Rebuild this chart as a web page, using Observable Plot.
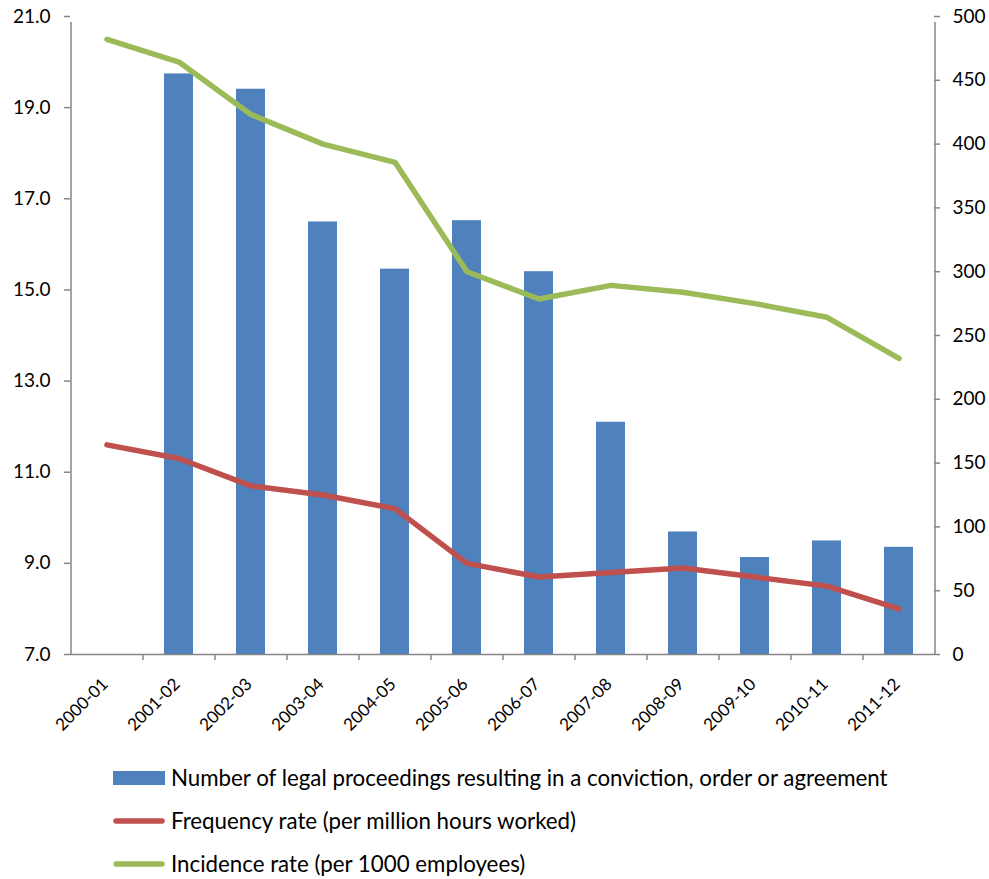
<!DOCTYPE html>
<html>
<head>
<meta charset="utf-8">
<script src="https://cdn.jsdelivr.net/npm/d3@7"></script>
<script src="https://cdn.jsdelivr.net/npm/@observablehq/plot@0.6"></script>
<style>
  body { margin: 0; background: #fff; font-family: Lato, "Open Sans", sans-serif; }
  #legend .row { height: 43px; display: flex; align-items: center; padding-left: 113px; font-size: 22.3px; color: #000; }
  #legend .sw { width: 52px; margin-right: 6px; flex: none; }
</style>
</head>
<body>
<div id="chart"></div>
<div id="legend"></div>
<script>
// ---- data ----
const years = ["2000-01","2001-02","2002-03","2003-04","2004-05","2005-06","2006-07","2007-08","2008-09","2009-10","2010-11","2011-12"];
const proceedings = [null, 455, 443, 339, 302, 340, 300, 182, 96, 76, 89, 84];
const frequency = [11.6, 11.3, 10.7, 10.5, 10.2, 9.0, 8.7, 8.8, 8.9, 8.7, 8.5, 8.0];
const incidence = [20.5, 20.0, 18.85, 18.2, 17.8, 15.4, 14.8, 15.1, 14.95, 14.7, 14.4, 13.5];
const leftTicks = [7, 9, 11, 13, 15, 17, 19, 21];
const rightTicks = [0, 50, 100, 150, 200, 250, 300, 350, 400, 450, 500];
const seriesNames = [
  "Number of legal proceedings resulting in a conviction, order or agreement",
  "Frequency rate (per million hours worked)",
  "Incidence rate (per 1000 employees)"
];
const seriesColors = ["#4F81BD", "#C0504D", "#9BBB59"];

// ---- layout ----
const W = 989, H = 756, mL = 70, mR = 55, mT = 16, mB = H - 654;
const plotW = W - mL - mR;
const axisColor = "#868686";
const halfStep = plotW / years.length / 2;

const data = years.map((year, i) => ({year, proceedings: proceedings[i], frequency: frequency[i], incidence: incidence[i]}));
const y2 = d3.scaleLinear([0, 500], [7, 21]);

const chart = Plot.plot({
  width: W, height: H,
  marginLeft: mL, marginRight: mR, marginTop: mT, marginBottom: mB,
  style: {fontFamily: "Lato, 'Open Sans', sans-serif", fontSize: "19px", color: "#000", background: "#fff"},
  x: {type: "band", domain: years, paddingInner: 0.6, paddingOuter: 0.3, label: null, axis: null},
  y: {domain: [7, 21], label: null, axis: null},
  marks: [
    Plot.barY(data.filter(d => d.proceedings != null), {x: "year", y1: 7, y2: d => y2(d.proceedings), fill: seriesColors[0]}),
    Plot.line(data, {x: "year", y: "frequency", stroke: seriesColors[1], strokeWidth: 5.5, strokeLinecap: "round", strokeLinejoin: "round"}),
    Plot.line(data, {x: "year", y: "incidence", stroke: seriesColors[2], strokeWidth: 5.5, strokeLinecap: "round", strokeLinejoin: "round"}),
    // axis lines and category-boundary ticks
    Plot.ruleY([7], {stroke: axisColor, strokeWidth: 1.5}),
    Plot.ruleX([years[0]], {x: d => d, dx: -halfStep, y1: 7, y2: 21, insetBottom: -6, stroke: axisColor, strokeWidth: 1.5}),
    Plot.ruleX([years[years.length - 1]], {x: d => d, dx: halfStep, y1: 7, y2: 21, insetBottom: -6, stroke: axisColor, strokeWidth: 1.5}),
    Plot.ruleX(years.slice(1), {x: d => d, dx: -halfStep, y1: 7, y2: 7, insetBottom: -6, stroke: axisColor, strokeWidth: 1.5}),
    // left axis ticks + labels
    Plot.tickY(leftTicks, {y: d => d, stroke: axisColor, strokeWidth: 1.5, insetLeft: -6, insetRight: plotW}),
    Plot.text(leftTicks, {y: d => d, frameAnchor: "left", dx: -20, textAnchor: "end", text: d3.format(".1f"), fill: "#000"}),
    // right axis ticks + labels
    Plot.tickY(rightTicks, {y: d => y2(d), stroke: axisColor, strokeWidth: 1.5, insetLeft: plotW, insetRight: -6}),
    Plot.text(rightTicks, {y: d => y2(d), frameAnchor: "right", dx: 18, textAnchor: "start", text: d => String(d), fill: "#000"}),
    // x labels
    Plot.text(years, {x: d => d, y: 7, dx: -2, dy: 27, rotate: -45, textAnchor: "end", lineAnchor: "middle", text: d => d, fill: "#000", fontSize: 17})
  ]
});
document.getElementById("chart").appendChild(chart);

// ---- legend ----
const legend = d3.select("#legend");
seriesNames.forEach((name, i) => {
  const row = legend.append("div").attr("class", "row");
  const sw = row.append("svg").attr("class", "sw").attr("width", 52).attr("height", 14);
  if (i === 0) {
    sw.append("rect").attr("x", 0).attr("y", 0).attr("width", 52).attr("height", 14).attr("fill", seriesColors[i]);
  } else {
    sw.append("line").attr("x1", 3).attr("x2", 49).attr("y1", 7).attr("y2", 7)
      .attr("stroke", seriesColors[i]).attr("stroke-width", 5.5).attr("stroke-linecap", "round");
  }
  row.append("span").text(name);
});
</script>
</body>
</html>
